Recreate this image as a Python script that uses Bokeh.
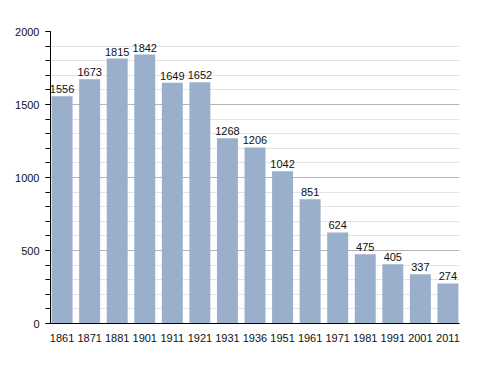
from bokeh.plotting import figure
from bokeh.models import ColumnDataSource, FixedTicker, Range1d, LabelSet
from bokeh.core.properties import value
from bokeh.embed import file_html
from bokeh.resources import INLINE

years = ["1861", "1871", "1881", "1901", "1911", "1921", "1931", "1936",
         "1951", "1961", "1971", "1981", "1991", "2001", "2011"]
population = [1556, 1673, 1815, 1842, 1649, 1652, 1268, 1206,
              1042, 851, 624, 475, 405, 337, 274]
y_ticks = [0, 500, 1000, 1500, 2000]

xs = list(range(len(years)))
src = ColumnDataSource(dict(x=xs, top=population, label=[str(v) for v in population]))

p = figure(width=480, height=365, output_backend="svg", toolbar_location=None,
           x_range=Range1d(-0.42, len(years) - 1 + 0.42), y_range=Range1d(0, 2000),
           min_border_left=50, min_border_right=21, min_border_top=31, min_border_bottom=42)
p.outline_line_color = None
p.background_fill_color = "white"

p.vbar(x="x", top="top", bottom=0, width=0.76, source=src,
       fill_color="#99afcb", line_color=None)

labels = LabelSet(x="x", y="top", text="label", source=src, text_align="center",
                  text_baseline="bottom", y_offset=3, text_font_size="11px",
                  text_font=value("Liberation Sans"), text_color="#111111")
p.add_layout(labels)

# y axis
p.yaxis.ticker = FixedTicker(ticks=y_ticks, minor_ticks=list(range(0, 2001, 100)))
p.yaxis.major_label_text_font = "Liberation Sans"
p.yaxis.major_label_text_font_size = "11px"
p.yaxis.major_label_text_color = "#111111"
p.yaxis.axis_line_color = "black"
p.yaxis.major_tick_in = 0
p.yaxis.major_tick_out = 5
p.yaxis.minor_tick_in = 0
p.yaxis.minor_tick_out = 5
p.yaxis.major_tick_line_color = "black"
p.yaxis.minor_tick_line_color = "black"
p.yaxis.major_label_standoff = 6

# x axis
p.xaxis.ticker = FixedTicker(ticks=xs)
p.xaxis.major_label_overrides = {i: y for i, y in enumerate(years)}
p.xaxis.major_label_text_font = "Liberation Sans"
p.xaxis.major_label_text_font_size = "11px"
p.xaxis.major_label_text_color = "#111111"
p.xaxis.axis_line_color = "black"
p.xaxis.major_tick_line_color = None
p.xaxis.minor_tick_line_color = None
p.xaxis.major_label_standoff = 4

# grids
p.xgrid.grid_line_color = None
p.ygrid.grid_line_color = "#b4b4b4"
p.ygrid.minor_grid_line_color = "#e4e4e4"

open("out.html", "w").write(file_html(p, INLINE))
